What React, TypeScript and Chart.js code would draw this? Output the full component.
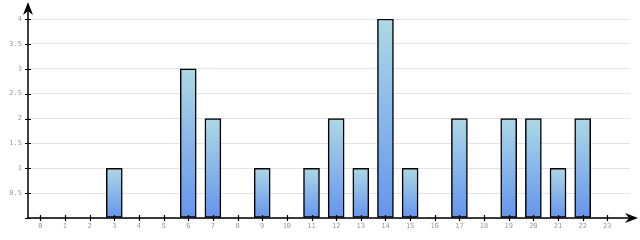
import React, { useEffect, useRef } from "react";
import { Chart, registerables } from "chart.js";

Chart.register(...registerables);

const categories = [0, 1, 2, 3, 4, 5, 6, 7, 8, 9, 10, 11, 12, 13, 14, 15, 16, 17, 18, 19, 20, 21, 22, 23];
const values = [0, 0, 0, 1, 0, 0, 3, 2, 0, 1, 0, 1, 2, 1, 4, 1, 0, 2, 0, 2, 2, 1, 2, 0];
const yTicks = [0, 0.5, 1, 1.5, 2, 2.5, 3, 3.5, 4];

const axesPlugin = {
  id: "axesArrows",
  afterDraw(chart: any) {
    const { ctx, chartArea } = chart;
    const xs = chart.scales.x;
    const ys = chart.scales.y;
    const x0 = chartArea.left;
    const y0 = ys.getPixelForValue(0);
    ctx.save();
    ctx.strokeStyle = "#000";
    ctx.fillStyle = "#000";
    ctx.lineWidth = 1.5;
    ctx.beginPath();
    ctx.moveTo(x0, y0 + 1);
    ctx.lineTo(x0, 6);
    ctx.moveTo(x0 - 1, y0);
    ctx.lineTo(634, y0);
    ctx.stroke();
    ctx.lineWidth = 1.2;
    ctx.beginPath();
    yTicks.forEach((v) => {
      const p = Math.round(ys.getPixelForValue(v)) + 0.5;
      ctx.moveTo(x0 - 3, p);
      ctx.lineTo(x0 + 3, p);
    });
    categories.forEach((c) => {
      const p = Math.round(xs.getPixelForValue(c)) + 0.5;
      ctx.moveTo(p, y0 - 3);
      ctx.lineTo(p, y0 + 3);
    });
    ctx.stroke();
    // y arrow
    ctx.beginPath();
    ctx.moveTo(x0, 2);
    ctx.lineTo(x0 + 5, 15);
    ctx.lineTo(x0, 11);
    ctx.lineTo(x0 - 5, 15);
    ctx.closePath();
    ctx.fill();
    // x arrow
    ctx.beginPath();
    ctx.moveTo(638, y0);
    ctx.lineTo(625, y0 - 5);
    ctx.lineTo(629, y0);
    ctx.lineTo(625, y0 + 5);
    ctx.closePath();
    ctx.fill();
    ctx.restore();
  },
};

export default function App() {
  const ref = useRef<HTMLCanvasElement | null>(null);
  useEffect(() => {
    document.body.style.margin = "0";
    const canvas = ref.current!;
    const pxPerUnit = (607 - 40) / 23;
    const xMax = -0.5 + (630 - 28) / pxPerUnit;
    const chart = new Chart(canvas, {
      type: "bar",
      data: {
        datasets: [
          {
            data: categories.map((c, i) => ({ x: c, y: values[i] })),
            barThickness: 16,
            borderColor: "#000",
            borderWidth: (ctx: any) => (ctx.raw && ctx.raw.y > 0 ? 1.5 : 0),
            borderSkipped: false,
            backgroundColor: (ctx: any) => {
              const ch = ctx.chart;
              const ys = ch.scales.y;
              if (!ys || !ctx.raw) return "#87bbe8";
              const top = ys.getPixelForValue(ctx.raw.y);
              const bottom = ys.getPixelForValue(0);
              if (!isFinite(top) || !isFinite(bottom) || top === bottom) return "#87bbe8";
              const g = ch.ctx.createLinearGradient(0, top, 0, bottom);
              g.addColorStop(0, "#add8e6");
              g.addColorStop(1, "#6495ed");
              return g;
            },
          } as any,
        ],
      },
      options: {
        animation: false,
        responsive: false,
        maintainAspectRatio: false,
        layout: { padding: { left: 0, right: 10, top: 19, bottom: 0 } },
        plugins: { legend: { display: false }, tooltip: { enabled: false } },
        scales: {
          x: {
            type: "linear",
            offset: false,
            min: -0.5,
            max: xMax,
            border: { display: false },
            grid: { display: false, drawTicks: false, offset: false },
            afterBuildTicks: (s: any) => {
              s.ticks = categories.map((c) => ({ value: c }));
            },
            ticks: {
              autoSkip: false,
              maxRotation: 0,
              padding: 4,
              color: "#999",
              font: { family: "DejaVu Sans Mono", size: 7 },
              callback: (v: any) => String(v),
            },
            afterFit: (s: any) => {
              s.height = 22;
            },
          },
          y: {
            min: 0,
            max: 4,
            border: { display: false },
            grid: { color: "#e3e3e3", lineWidth: 1, drawTicks: false },
            ticks: {
              stepSize: 0.5,
              padding: 6,
              color: "#999",
              font: { family: "DejaVu Sans Mono", size: 7 },
              callback: (v: any) => (v === 0 ? "" : String(v)),
            },
            afterFit: (s: any) => {
              s.width = 28;
            },
          },
        },
      },
      plugins: [axesPlugin],
    } as any);
    return () => chart.destroy();
  }, []);
  return (
    <div style={{ position: "absolute", left: 0, top: 0, width: 640, height: 240 }}>
      <canvas ref={ref} width={640} height={240} style={{ width: 640, height: 240 }} />
    </div>
  );
}
